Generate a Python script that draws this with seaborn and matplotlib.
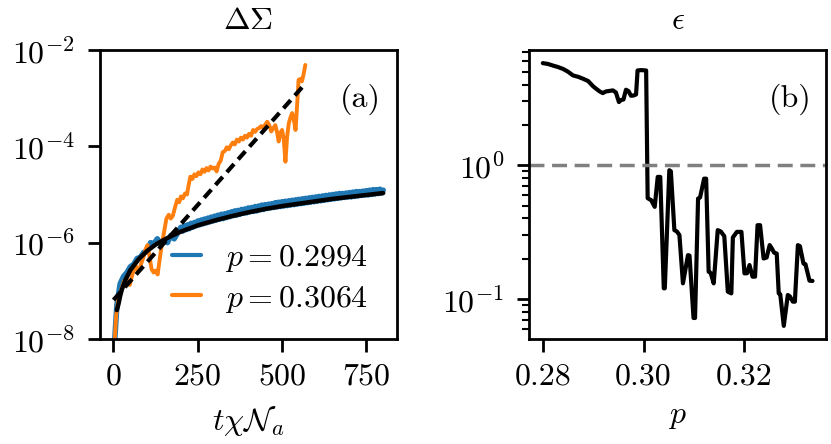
import matplotlib
matplotlib.use("Agg")
import matplotlib.pyplot as plt
import matplotlib.ticker as mticker
import numpy as np
import pandas as pd
import seaborn as sns

# ---- panel (a): Delta Sigma vs t chi N_a (values are log10)
t_blue = ([3, 10, 20, 30, 40, 50, 60, 70, 80, 90, 100, 110, 120, 130, 140, 150,
           160, 170, 180, 190] + list(range(200, 805, 5)))
log_blue = [-8.1, -7.3, -6.85, -6.70, -6.62, -6.50, -6.45, -6.33, -6.30, -6.20,
            -6.18, -6.00, -6.02, -5.92, -6.03, -5.95, -6.00, -5.85, -5.92, -5.80,
            # t = 200 ... 800 every 5
            -5.68, -5.76, -5.65, -5.73, -5.63, -5.71, -5.60, -5.68, -5.58, -5.65,
            -5.55, -5.63, -5.53, -5.61, -5.51, -5.59, -5.49, -5.57, -5.47, -5.55,
            -5.45, -5.53, -5.43, -5.51, -5.41, -5.50, -5.40, -5.48, -5.38, -5.46,
            -5.36, -5.44, -5.34, -5.43, -5.33, -5.41, -5.31, -5.39, -5.30, -5.38,
            -5.28, -5.36, -5.27, -5.35, -5.25, -5.34, -5.24, -5.32, -5.22, -5.31,
            -5.21, -5.29, -5.20, -5.28, -5.19, -5.27, -5.17, -5.26, -5.16, -5.25,
            -5.15, -5.24, -5.14, -5.23, -5.13, -5.22, -5.12, -5.21, -5.11, -5.20,
            -5.10, -5.19, -5.09, -5.18, -5.08, -5.17, -5.07, -5.16, -5.06, -5.15,
            -5.05, -5.14, -5.04, -5.13, -5.03, -5.12, -5.02, -5.11, -5.01, -5.10,
            -5.00, -5.09, -4.99, -5.08, -4.98, -5.07, -4.98, -5.06, -4.97, -5.05,
            -4.96, -5.05, -4.95, -5.04, -4.94, -5.03, -4.94, -5.02, -4.93, -5.01,
            -4.92, -5.01, -4.91, -5.00, -4.90, -4.99, -4.90, -4.98, -4.89, -4.97,
            -4.91]

t_orange = [3, 8, 14, 20, 26, 31, 36, 42, 48, 54, 60, 66, 72, 78, 84, 90, 96,
            101, 107, 113, 119, 125, 131, 136, 141, 147, 152, 157, 164, 170, 176,
            182, 189, 195, 200, 206, 212, 218, 223, 228, 234, 240, 246, 252, 258,
            264, 270, 276, 282, 288, 294, 300, 306, 312, 318, 324, 330, 336, 342,
            348, 354, 360, 366, 372, 378, 384, 390, 396, 402, 408, 414, 420, 426,
            432, 438, 444, 450, 456, 462, 468, 474, 480, 485, 490, 495, 500, 505,
            510, 515, 520, 525, 530, 535, 540, 545, 549, 554, 559, 564, 569]
log_orange = [-8.1, -7.5, -7.2, -7.05, -6.92, -6.80, -6.90, -6.78, -6.88, -6.72,
              -6.55, -6.48, -6.60, -6.52, -6.40, -6.28, -6.12, -6.05, -6.30, -6.55,
              -6.62, -6.58, -6.66, -6.40, -6.15, -5.90, -5.70, -5.50, -5.42, -5.50,
              -5.44, -5.28, -5.11, -5.16, -5.04, -5.08, -4.98, -5.00, -4.80, -4.63,
              -4.68, -4.58, -4.62, -4.54, -4.58, -4.48, -4.53, -4.45, -4.50, -4.42,
              -4.46, -4.44, -4.52, -4.36, -4.30, -4.12, -4.10, -4.02, -4.06, -3.98,
              -3.92, -3.96, -3.86, -3.90, -3.82, -3.86, -3.78, -3.82, -3.74, -3.78,
              -3.66, -3.70, -3.64, -3.62, -3.58, -3.62, -3.55, -3.49, -3.56, -3.69,
              -3.62, -3.56, -3.70, -3.90, -3.72, -3.66, -3.85, -4.32, -3.80, -3.52,
              -3.40, -3.31, -3.45, -3.66, -3.10, -2.62, -2.60, -2.65, -2.50, -2.31]

t_fit = [10, 15, 20, 25, 35, 50, 75, 100, 125, 150, 175, 200, 250, 300, 350,
         400, 450, 500, 550, 600, 650, 700, 750, 800]
log_fit = [-7.40, -7.27, -7.10, -6.97, -6.78, -6.57, -6.34, -6.17, -6.04, -5.94,
           -5.85, -5.77, -5.64, -5.54, -5.45, -5.37, -5.30, -5.24, -5.19, -5.14,
           -5.09, -5.05, -5.01, -4.97]

t_exp = [0, 565]
log_exp = [-7.19, -2.73]

# ---- panel (b): epsilon vs p (log10 values)
p_vals = [0.2800, 0.2810, 0.2820, 0.2830, 0.2840, 0.2850, 0.2860, 0.2870, 0.2880,
          0.2890, 0.2900, 0.2906, 0.2913, 0.2919, 0.2925, 0.2932, 0.2939, 0.2945,
          0.2951, 0.2955, 0.2960, 0.2965, 0.2970, 0.2975, 0.2980, 0.2985, 0.2988,
          0.2995, 0.3005, 0.3008, 0.3015, 0.3022, 0.3028, 0.3033, 0.3040, 0.3042,
          0.3051, 0.3054, 0.3061, 0.3066, 0.3071, 0.3078, 0.3088, 0.3091, 0.3099,
          0.3102, 0.3108, 0.3112, 0.3120, 0.3124, 0.3129, 0.3133, 0.3139, 0.3147,
          0.3153, 0.3160, 0.3167, 0.3174, 0.3177, 0.3185, 0.3194, 0.3200, 0.3205,
          0.3210, 0.3216, 0.3221, 0.3226, 0.3231, 0.3238, 0.3244, 0.3250, 0.3254,
          0.3259, 0.3264, 0.3268, 0.3271, 0.3278, 0.3286, 0.3290, 0.3296, 0.3300,
          0.3306, 0.3310, 0.3317, 0.3321, 0.3329, 0.3335]
log_eps = [0.764, 0.758, 0.746, 0.735, 0.721, 0.700, 0.672, 0.662, 0.647, 0.630,
           0.590, 0.572, 0.552, 0.540, 0.552, 0.556, 0.560, 0.545, 0.473, 0.488,
           0.492, 0.565, 0.555, 0.520, 0.522, 0.530, 0.709, 0.712, 0.709, -0.246,
           -0.261, -0.311, -0.087, -0.087, -0.920, -0.920, -0.037, -0.045, -0.485,
           -0.495, -0.522, -0.883, -0.672, -0.675, -1.142, -1.142, -0.249, -0.240,
           -0.100, -0.100, -0.796, -0.805, -0.883, -0.485, -0.495, -0.530, -0.945,
           -0.958, -0.540, -0.498, -0.498, -0.808, -0.808, -0.746, -0.833, -0.833,
           -0.448, -0.448, -0.697, -0.690, -0.597, -0.620, -0.654, -0.660, -0.958,
           -0.965, -1.201, -0.970, -0.980, -1.020, -1.020, -0.597, -0.605, -0.734,
           -0.740, -0.863, -0.865]

sns.set_theme(style="ticks", rc={
    "axes.edgecolor": "black", "axes.linewidth": 2.0,
    "xtick.color": "black", "ytick.color": "black",
    "text.color": "black", "axes.labelcolor": "black",
    "xtick.major.width": 2.0, "ytick.major.width": 2.0,
    "xtick.major.size": 9, "ytick.major.size": 9,
    "ytick.minor.width": 1.5, "ytick.minor.size": 5,
    "xtick.major.pad": 8, "ytick.major.pad": 9,
})
FS = 23
plt.rcParams["font.family"] = "serif"
plt.rcParams["font.serif"] = ["cmr10", "DejaVu Serif"]
plt.rcParams["mathtext.fontset"] = "cm"
plt.rcParams["axes.formatter.use_mathtext"] = True
plt.rcParams["axes.unicode_minus"] = False
for key in ["font.size", "xtick.labelsize", "ytick.labelsize", "axes.labelsize",
            "axes.titlesize", "legend.fontsize"]:
    plt.rcParams[key] = FS

df_blue = pd.DataFrame({"t": t_blue, "y": 10.0 ** np.array(log_blue)})
df_orange = pd.DataFrame({"t": t_orange, "y": 10.0 ** np.array(log_orange)})
df_fit = pd.DataFrame({"t": t_fit, "y": 10.0 ** np.array(log_fit)})
df_exp = pd.DataFrame({"t": t_exp, "y": 10.0 ** np.array(log_exp)})
df_eps = pd.DataFrame({"p": p_vals, "eps": 10.0 ** np.array(log_eps)})

fig = plt.figure(figsize=(8.31, 4.44), dpi=100)
ax1 = fig.add_axes([100 / 831, 105 / 444, 296.7 / 831, 289 / 444])
ax2 = fig.add_axes([529.3 / 831, 105 / 444, 296.7 / 831, 289 / 444])

sns.lineplot(data=df_blue, x="t", y="y", ax=ax1, color="#1f77b4", lw=4.0,
             label=r"$p=0.2994$")
sns.lineplot(data=df_orange, x="t", y="y", ax=ax1, color="#ff7f0e", lw=2.8,
             label=r"$p=0.3064$")
sns.lineplot(data=df_fit, x="t", y="y", ax=ax1, color="black", lw=3.2,
             legend=False)
ax1.plot(df_exp["t"], df_exp["y"], color="black", lw=3.0, dashes=(2.6, 1.5))
ax1.set_yscale("log")
ax1.set_ylim(1e-8, 1e-2)
ax1.set_xlim(-40, 840)
ax1.set_xticks([0, 250, 500, 750])
ax1.set_yticks([1e-8, 1e-6, 1e-4, 1e-2])
ax1.yaxis.set_minor_locator(mticker.NullLocator())
ax1.set_xlabel(r"$t\chi\mathcal{N}_a$", labelpad=10)
ax1.set_ylabel("")
ax1.set_title(r"$\Delta\Sigma$", pad=15)
ax1.text(0.876, 0.83, "(a)", transform=ax1.transAxes, ha="center", va="center")
leg = ax1.legend(loc="lower right", bbox_to_anchor=(0.945, 0.04), frameon=False,
                 handlelength=0.9, handletextpad=0.75, labelspacing=0.3,
                 borderaxespad=0.0)
for h in leg.get_lines():
    h.set_linewidth(3.0)

sns.lineplot(data=df_eps, x="p", y="eps", ax=ax2, color="black", lw=3.0)
ax2.axhline(1.0, color="gray", lw=2.5, dashes=(4.3, 2.2))
ax2.set_yscale("log")
ax2.set_xticks([0.28, 0.30, 0.32])
ax2.xaxis.set_major_formatter(mticker.FormatStrFormatter("%.2f"))
ax2.set_xlabel(r"$p$", labelpad=10)
ax2.set_ylabel("")
ax2.set_title(r"$\epsilon$", pad=15)
ax2.text(0.879, 0.83, "(b)", transform=ax2.transAxes, ha="center", va="center")

for ax in (ax1, ax2):
    for s in ax.spines.values():
        s.set_visible(True)
        s.set_linewidth(2.0)

fig.savefig("out.png", dpi=100)
